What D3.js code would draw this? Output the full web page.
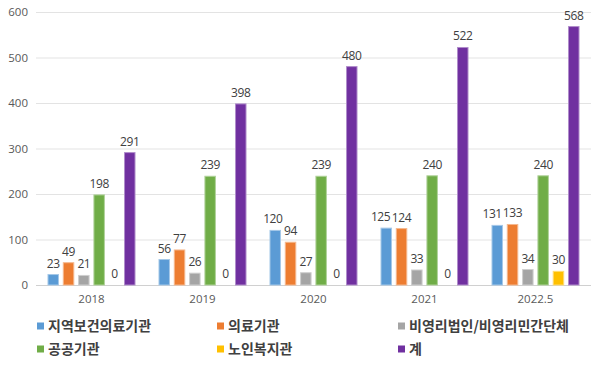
<!DOCTYPE html>
<html><head><meta charset="utf-8">
<script src="https://cdn.jsdelivr.net/npm/d3@7"></script>
<style>body{margin:0;background:#fff}svg{display:block}</style>
</head><body>
<svg id="c" width="600" height="365"></svg>
<script>
const categories = ["2018","2019","2020","2021","2022.5"];
const seriesNames = ["지역보건의료기관","의료기관","비영리법인/비영리민간단체","공공기관","노인복지관","계"];
const s1 = [23,56,120,125,131];
const s2 = [49,77,94,124,133];
const s3 = [21,26,27,33,34];
const s4 = [198,239,239,240,240];
const s5 = [0,0,0,0,30];
const s6 = [291,398,480,522,568];
const yTicks = [0,100,200,300,400,500,600];
const colors = ["#5B9BD5","#ED7D31","#A5A5A5","#70AD47","#FFC000","#7030A0"];
const series = [s1,s2,s3,s4,s5,s6];

const svg = d3.select("#c");
const L=36,R=591,T=12,B=285;
const font = "'Noto Sans CJK KR','Noto Sans',sans-serif";
const numFont = "'Open Sans','Noto Sans',sans-serif";
const y = d3.scaleLinear().domain([0,600]).range([B,T]);
const x0 = d3.scaleBand().domain(categories).range([L,R]).paddingInner(0.207).paddingOuter(0.1035);
const x1 = d3.scaleBand().domain(d3.range(6)).range([0,x0.bandwidth()]).paddingInner(0.25).paddingOuter(0.0);

// grid
svg.append("g").selectAll("line").data(yTicks).join("line")
  .attr("x1",L).attr("x2",R).attr("y1",d=>y(d)+0.5).attr("y2",d=>y(d)+0.5)
  .attr("stroke",d=>d===0?"#d0d0d0":"#e3e3e3").attr("stroke-width",1);

const yAxis = d3.axisLeft(y).tickValues(yTicks).tickSize(0).tickPadding(8);
const gy = svg.append("g").attr("transform",`translate(${L},0)`).call(yAxis);
gy.select(".domain").remove();
gy.selectAll("text").attr("font-family",numFont).attr("font-size",11.5).attr("fill","#595959");

const xAxis = d3.axisBottom(x0).tickSize(0).tickPadding(10);
const gx = svg.append("g").attr("transform",`translate(0,${B})`).call(xAxis);
gx.select(".domain").remove();
gx.selectAll("text").attr("font-family",numFont).attr("font-size",11.5).attr("fill","#595959");

const g = svg.append("g");
const labelSel = [];
series.forEach((vals,si)=>{
  const col = colors[si];
  const light = d3.interpolateRgb(col,"#ffffff")(0.45);
  g.append("g").selectAll("rect").data(vals).join("rect")
    .attr("x",(d,i)=>x0(categories[i])+x1(si)+0.5)
    .attr("y",d=>y(d))
    .attr("width",x1.bandwidth()-1)
    .attr("height",d=>Math.max(0,B-y(d)))
    .attr("fill",d=>d===0?"none":col)
    .attr("stroke",d=>d===0?"none":light).attr("stroke-width",1);
  labelSel.push(g.append("g").selectAll("text").data(vals).join("text")
    .attr("x",(d,i)=>x0(categories[i])+x1(si)+x1.bandwidth()/2)
    .attr("y",d=>y(d)-7)
    .attr("text-anchor","middle")
    .attr("font-family",numFont).attr("font-size",12).attr("letter-spacing",-0.4).attr("fill","#404040")
    .text(d=>d));
});
// nudge overlapping neighbour labels apart (shift left one leftwards)
categories.forEach((c,i)=>{
  for(let si=series.length-2; si>=0; si--){
    const a = labelSel[si].nodes()[i], b = labelSel[si+1].nodes()[i];
    const ba=a.getBBox(), bb=b.getBBox();
    const vOver = ba.y < bb.y+bb.height && bb.y < ba.y+ba.height;
    const over = ba.x+ba.width+1 - bb.x;
    if(vOver && over>0){ a.setAttribute("x", +a.getAttribute("x")-over); }
  }
});

// legend
const legX=[37,217,398], legY=[326,349];
const lg = svg.append("g");
seriesNames.forEach((n,i)=>{
  const cx = legX[i%3], cy = legY[Math.floor(i/3)];
  lg.append("rect").attr("x",cx).attr("y",cy-3.5).attr("width",7).attr("height",7).attr("fill",colors[i]);
  lg.append("text").attr("x",cx+11).attr("y",cy).attr("dy","0.36em")
    .attr("font-family",font).attr("font-size",14).attr("font-weight",600).attr("fill","#404040").text(n);
});
</script>
</body></html>
